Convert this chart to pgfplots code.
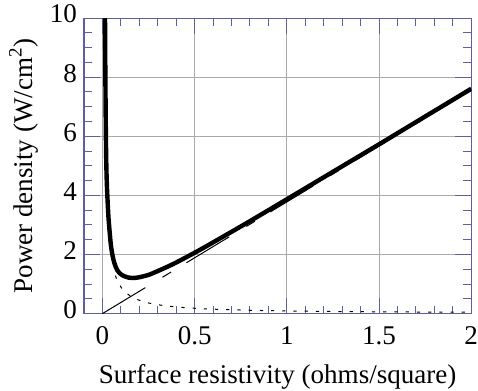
\documentclass[border=0pt]{standalone}
\usepackage{fontspec}
\setmainfont{Liberation Serif}
\usepackage{pgfplots}
\pgfplotsset{compat=1.18}
\definecolor{axcol}{RGB}{95,95,160}
\definecolor{gridcol}{RGB}{170,170,170}
\begin{document}
\begin{tikzpicture}
\begin{axis}[
  scale only axis,
  width=193.3pt, height=147.5pt,
  xmin=-0.1, xmax=2, ymin=0, ymax=10,
  xtick={0,0.5,1,1.5,2},
  xticklabels={0,0.5,1,1.5,2},
  ytick={0,2,4,6,8,10},
  minor x tick num=4,
  minor y tick num=3,
  tick align=inside,
  major tick length=8pt,
  minor tick length=4pt,
  axis line style={axcol, line width=0.6pt},
  every tick/.style={axcol, line width=0.5pt},
  grid=major,
  major grid style={gridcol, line width=0.5pt},
  /pgf/number format/assume math mode=true,
  tick label style={font=\fontsize{13.5}{16}\selectfont},
  label style={font=\fontsize{13.5}{16}\selectfont},
  yticklabel style={inner ysep=2.5pt, yshift=2pt},
  xticklabel style={inner xsep=0pt, yshift=-3pt},
  xlabel={Surface resistivity (ohms/square)},
  ylabel={Power density (W/cm\textsuperscript{2})},
  xlabel style={inner ysep=0.5pt, yshift=-5.5pt},
  ylabel style={inner ysep=4.5pt, yshift=-2pt},
]
% dashed asymptote  P = b R
\addplot[black, line width=0.5pt, dash pattern=on 25pt off 10pt on 5pt off 9pt] coordinates {(0,0) (2,7.56)};
% dotted  P = a / R
\addplot[black, line width=0.5pt, dash pattern=on 1.6pt off 4pt, smooth] coordinates {
(0.07,1.286) (0.08,1.125) (0.1,0.9) (0.12,0.75) (0.15,0.6) (0.2,0.45) (0.25,0.36) (0.3,0.3)
(0.4,0.225) (0.5,0.18) (0.6,0.15) (0.8,0.1125) (1.0,0.09) (1.25,0.072) (1.5,0.06) (1.75,0.051) (2.0,0.045)};
% total
\addplot[black, line width=2.2pt, smooth, line join=round] coordinates {
(0.0135,10.3) (0.015,8.6) (0.0175,6.6) (0.02,5.3) (0.023,4.5) (0.027,3.9) (0.032,3.3) (0.037,2.9)
(0.045,2.35) (0.055,1.95) (0.065,1.7) (0.08,1.47) (0.1,1.33) (0.12,1.26) (0.14,1.22) (0.16,1.205)
(0.18,1.21) (0.2,1.23) (0.25,1.31) (0.3,1.44) (0.35,1.58) (0.4,1.73) (0.5,2.06) (0.6,2.41)
(0.8,3.13) (1.0,3.87) (1.25,4.80) (1.5,5.73) (1.75,6.67) (2.0,7.61)};
\end{axis}
\end{tikzpicture}
\end{document}
